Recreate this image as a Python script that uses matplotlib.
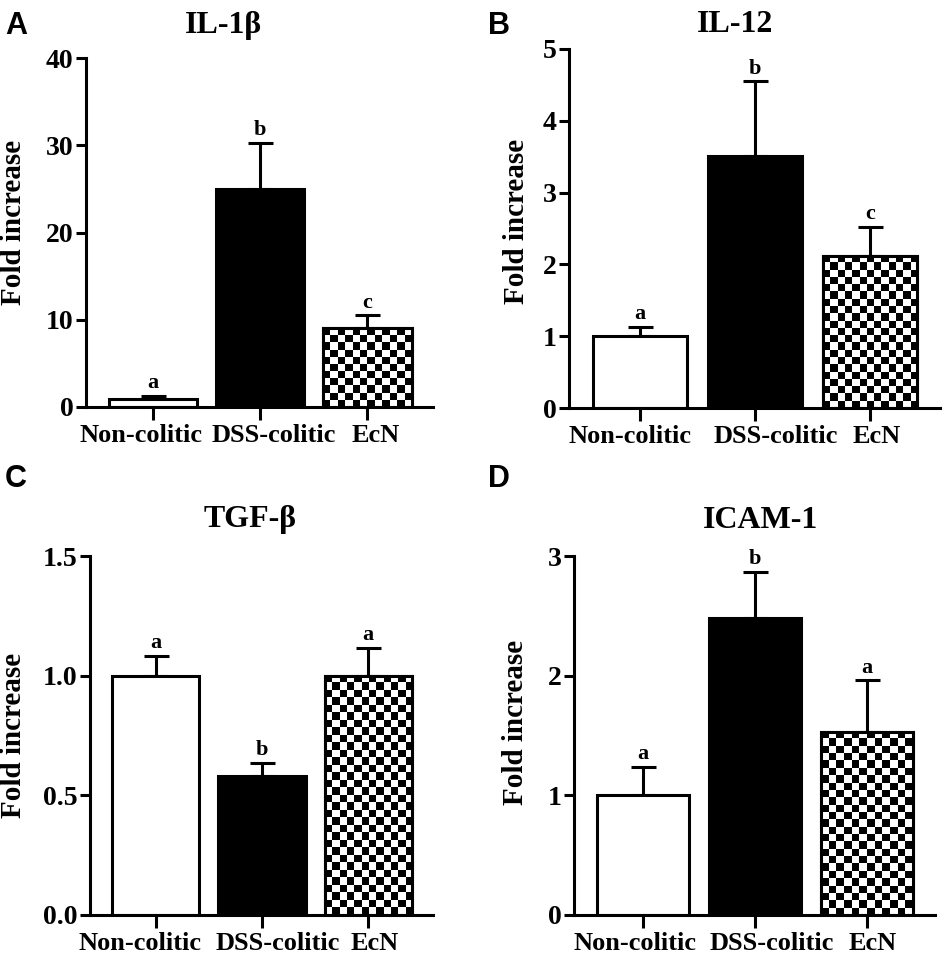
import numpy as np
import matplotlib.pyplot as plt
from matplotlib.transforms import ScaledTranslation

# groups and values (mean, upper SEM)
groups = ['Non-colitic', 'DSS-colitic', 'EcN']

il1b_mean = [0.9, 25.0, 9.05]
il1b_err = [0.4, 5.3, 1.45]
il1b_sig = ['a', 'b', 'c']

il12_mean = [1.0, 3.51, 2.12]
il12_err = [0.13, 1.04, 0.40]
il12_sig = ['a', 'b', 'c']

tgfb_mean = [1.0, 0.58, 1.0]
tgfb_err = [0.082, 0.055, 0.115]
tgfb_sig = ['a', 'b', 'a']

icam_mean = [1.0, 2.48, 1.53]
icam_err = [0.24, 0.39, 0.43]
icam_sig = ['a', 'b', 'a']

plt.rcParams['font.family'] = ['Liberation Serif', 'DejaVu Serif']
plt.rcParams['font.weight'] = 'bold'

W, H = 950, 957
fig = plt.figure(figsize=(W / 100, H / 100), dpi=100)
LW = 2.2

def add_ax(l, t, r, b):
    return fig.add_axes([l / W, 1 - b / H, (r - l) / W, (b - t) / H])

def checker(ax, bar, cell=7.4):
    x0, y0 = bar.get_x(), bar.get_y()
    x1, y1 = x0 + bar.get_width(), y0 + bar.get_height()
    p0 = ax.transData.transform((x0, y0))
    p1 = ax.transData.transform((x1, y1))
    nx = max(1, int(round(abs(p1[0] - p0[0]) / cell)))
    ny = max(1, int(round(abs(p1[1] - p0[1]) / cell)))
    img = np.add.outer(np.arange(ny), np.arange(nx)) % 2
    im = ax.imshow(img, cmap='gray', extent=(x0, x1, y0, y1), origin='upper',
                   interpolation='nearest', aspect='auto', zorder=2)
    im.set_clip_path(bar)
    ax.bar([x0 + bar.get_width() / 2], [y1 - y0], width=bar.get_width(),
           facecolor='none', edgecolor='black', linewidth=LW, zorder=3)

def panel(box, mean, err, sig, ylim, yticks, yfmt, title, tpos, letter, lpos, ylc, shifts):
    ax = add_ax(*box)
    x = np.arange(len(groups))
    ax.set_xlim(-0.62, 2.61)
    ax.set_ylim(*ylim)
    bars = ax.bar(x, mean, width=0.82, color=['white', 'black', 'white'],
                  edgecolor='black', linewidth=LW, zorder=2)
    ax.errorbar(x, mean, yerr=[np.zeros(3), err], fmt='none', ecolor='black',
                elinewidth=LW, capsize=9, capthick=LW, zorder=1)
    checker(ax, bars[2])
    ax.set_xlim(-0.62, 2.61)
    ax.set_ylim(*ylim)
    for xi, m, e, s in zip(x, mean, err, sig):
        ax.annotate(s, (xi, m + e), xytext=(0, 2), textcoords='offset points',
                    ha='center', va='bottom', fontsize=16, fontweight='bold')
    for sp in ['top', 'right']:
        ax.spines[sp].set_visible(False)
    for sp in ['left', 'bottom']:
        ax.spines[sp].set_linewidth(LW)
    ax.tick_params(axis='x', length=9, width=LW, pad=3)
    ax.tick_params(axis='y', length=7, width=LW, pad=2)
    ax.set_xticks(x)
    ax.set_xticklabels(groups, fontsize=19)
    ax.set_yticks(yticks)
    ax.set_yticklabels([yfmt.format(v) for v in yticks], fontsize=20)
    for lab, dx in zip(ax.get_xticklabels(), shifts):
        lab.set_transform(lab.get_transform() + ScaledTranslation(dx / 100, 0, fig.dpi_scale_trans))
    ax.set_ylabel('Fold increase', fontsize=21, fontweight='bold')
    ax.yaxis.set_label_coords(*ylc)
    fig.text(tpos[0] / W, 1 - tpos[1] / H, title, ha='center', va='center',
             fontsize=23, fontweight='bold')
    fig.text(lpos[0] / W, 1 - lpos[1] / H, letter, ha='left', va='center',
             fontsize=22, fontweight='bold', family='Liberation Sans')
    return ax

panel((86, 58, 433, 407), il1b_mean, il1b_err, il1b_sig, (0, 40), [0, 10, 20, 30, 40],
      '{:.0f}', 'IL-1\u03b2', (224, 25), 'A', (5, 26), (-0.17, 0.53), [-12, 14, 8])
panel((569, 49, 940, 408), il12_mean, il12_err, il12_sig, (0, 5), [0, 1, 2, 3, 4, 5],
      '{:.0f}', 'IL-12', (735, 24), 'B', (488, 26), (-0.105, 0.52), [-10, 21, 7])
panel((90, 556, 433, 915), tgfb_mean, tgfb_err, tgfb_sig, (0, 1.5), [0, 0.5, 1.0, 1.5],
      '{:.1f}', 'TGF-\u03b2', (250, 519), 'C', (5, 479), (-0.185, 0.5), [-16, 16, 6])
panel((574, 556, 935, 915), icam_mean, icam_err, icam_sig, (0, 3), [0, 1, 2, 3],
      '{:.0f}', 'ICAM-1', (761, 521), 'D', (488, 479), (-0.125, 0.535), [-8, 17, 6])

fig.savefig('out.png', dpi=100)
